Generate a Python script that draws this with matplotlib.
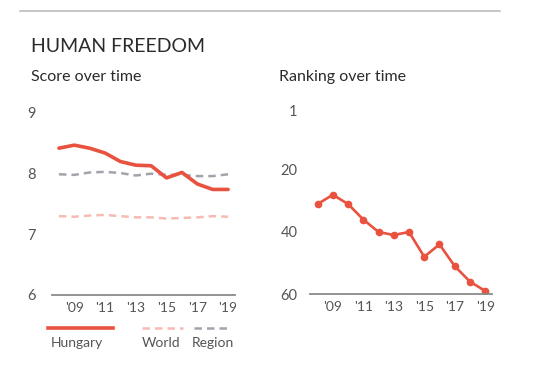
import matplotlib as mpl
import matplotlib.pyplot as plt
from matplotlib.lines import Line2D

mpl.rcParams.update({
    "font.family": ["Lato", "DejaVu Sans"],
    "axes.spines.top": False,
    "axes.spines.right": False,
    "axes.spines.left": False,
})

years = [2008, 2009, 2010, 2011, 2012, 2013, 2014, 2015, 2016, 2017, 2018, 2019]
hungary_score = [8.42, 8.47, 8.42, 8.34, 8.20, 8.14, 8.13, 7.93, 8.02, 7.83, 7.74, 7.74]
world_score = [7.30, 7.29, 7.31, 7.32, 7.30, 7.28, 7.28, 7.26, 7.27, 7.28, 7.30, 7.29]
region_score = [7.99, 7.98, 8.02, 8.03, 8.01, 7.97, 8.00, 7.98, 7.98, 7.96, 7.96, 7.99]
hungary_rank = [31, 28, 31, 36, 40, 41, 40, 48, 44, 51, 56, 59]

tick_years = [2009, 2011, 2013, 2015, 2017, 2019]
tick_labels = ["'09", "'11", "'13", "'15", "'17", "'19"]

RED = "#e9523e"
PINK = "#f4bcb2"
GREY = "#a3a4ab"
AXIS = "#8a8a8a"
TXT = "#555555"
DARK = "#2b2b2b"

W, H = 537, 390
fig = plt.figure(figsize=(W / 100, H / 100), dpi=100)


def box(x0, y0, x1, y1):
    # pixel box (from top-left) -> figure fraction rect
    return [x0 / W, 1 - y1 / H, (x1 - x0) / W, (y1 - y0) / H]


def fx(x):
    return x / W


def fy(y):
    return 1 - y / H


# header
fig.add_artist(Line2D([fx(20), fx(500)], [fy(11), fy(11)], color="#bdbdbd", lw=1.2))
fig.text(fx(31), fy(46), "HUMAN FREEDOM", fontsize=14, color=DARK, va="center")
fig.text(fx(31), fy(77), "Score over time", fontsize=11.5, color=DARK, va="center")
fig.text(fx(279), fy(77), "Ranking over time", fontsize=11.5, color=DARK, va="center")

# score panel
ax1 = fig.add_axes(box(52, 113, 235, 295))
ax1.plot(years, world_score, color=PINK, lw=1.8, dashes=(3, 2))
ax1.plot(years, region_score, color=GREY, lw=1.8, dashes=(3, 2))
ax1.plot(years, hungary_score, color=RED, lw=2.6, solid_capstyle="round")
ax1.set_ylim(6, 9)
ax1.set_xlim(2007.55, 2019.45)
ax1.set_yticks([6, 7, 8, 9])
ax1.set_yticklabels(["6", "7", "8", "9"])
ax1.tick_params(axis="y", length=0, pad=12, labelsize=10.5, labelcolor=TXT)

# ranking panel
ax2 = fig.add_axes(box(310, 111, 492, 294))
ax2.plot(years, hungary_rank, color=RED, lw=1.9, marker="o", ms=4.5)
ax2.set_ylim(60, 1)
ax2.set_xlim(2007.5, 2019.45)
ax2.set_yticks([1, 20, 40, 60])
ax2.tick_params(axis="y", length=0, pad=9, labelsize=10.5, labelcolor=TXT)

for ax in (ax1, ax2):
    ax.set_xticks(tick_years)
    ax.set_xticklabels(tick_labels)
    ax.tick_params(axis="x", length=0, pad=5, labelsize=10, labelcolor=TXT)
    ax.spines["bottom"].set_color(AXIS)
    ax.spines["bottom"].set_linewidth(1.3)
    ax.patch.set_alpha(0)

# legend
fig.add_artist(Line2D([fx(48), fx(113)], [fy(328), fy(328)], color=RED, lw=2.6))
fig.add_artist(Line2D([fx(142), fx(183)], [fy(328), fy(328)], color=PINK, lw=1.8, dashes=(3, 2)))
fig.add_artist(Line2D([fx(194), fx(231)], [fy(328), fy(328)], color=GREY, lw=1.8, dashes=(3, 2)))
fig.text(fx(51), fy(343), "Hungary", fontsize=10, color=TXT, va="center")
fig.text(fx(142), fy(343), "World", fontsize=10, color=TXT, va="center")
fig.text(fx(192), fy(343), "Region", fontsize=10, color=TXT, va="center")

fig.savefig("out.png", dpi=100)
